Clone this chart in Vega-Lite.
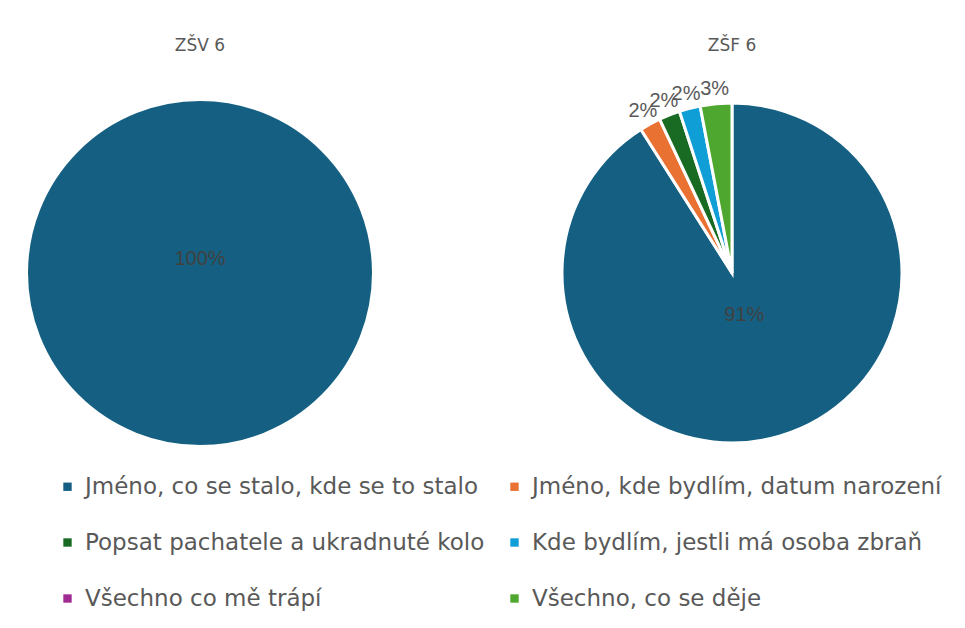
{
  "$schema": "https://vega.github.io/schema/vega-lite/v6.json",
  "background": "white",
  "padding": {"top": 36, "left": 0, "right": 0, "bottom": 0},
  "datasets": {
    "d": [
      {"chart": "ZŠV 6", "category": "Jméno, co se stalo, kde se to stalo", "o": 1, "value": 100, "label": "100%"},
      {"chart": "ZŠV 6", "category": "Jméno, kde bydlím, datum narození", "o": 2, "value": 0, "label": "0%"},
      {"chart": "ZŠV 6", "category": "Popsat pachatele a ukradnuté kolo", "o": 3, "value": 0, "label": "0%"},
      {"chart": "ZŠV 6", "category": "Kde bydlím, jestli má osoba zbraň", "o": 4, "value": 0, "label": "0%"},
      {"chart": "ZŠV 6", "category": "Všechno co mě trápí", "o": 5, "value": 0, "label": "0%"},
      {"chart": "ZŠV 6", "category": "Všechno, co se děje", "o": 6, "value": 0, "label": "0%"},
      {"chart": "ZŠF 6", "category": "Jméno, co se stalo, kde se to stalo", "o": 1, "value": 91, "label": "91%"},
      {"chart": "ZŠF 6", "category": "Jméno, kde bydlím, datum narození", "o": 2, "value": 2, "label": "2%"},
      {"chart": "ZŠF 6", "category": "Popsat pachatele a ukradnuté kolo", "o": 3, "value": 2, "label": "2%"},
      {"chart": "ZŠF 6", "category": "Kde bydlím, jestli má osoba zbraň", "o": 4, "value": 2, "label": "2%"},
      {"chart": "ZŠF 6", "category": "Všechno co mě trápí", "o": 5, "value": 0, "label": "0%"},
      {"chart": "ZŠF 6", "category": "Všechno, co se děje", "o": 6, "value": 3, "label": "3%"}
    ]
  },
  "spacing": 132,
  "resolve": {"scale": {"color": "shared"}},
  "hconcat": [
    {
      "data": {"name": "d"},
      "transform": [{"filter": "datum.chart === 'ZŠV 6'"}, {"filter": "datum.value > 0"}],
      "title": {"text": "ZŠV 6", "offset": 41},
      "width": 400,
      "height": 346,
      "encoding": {
        "theta": {"field": "value", "type": "quantitative", "stack": true},
        "order": {"field": "o", "type": "quantitative"}
      },
      "layer": [
        {
          "mark": {"type": "arc", "outerRadius": 173, "stroke": "white", "strokeWidth": 2},
          "encoding": {
            "color": {
              "field": "category", "type": "nominal",
              "scale": {
                "domain": ["Jméno, co se stalo, kde se to stalo", "Jméno, kde bydlím, datum narození", "Popsat pachatele a ukradnuté kolo", "Kde bydlím, jestli má osoba zbraň", "Všechno co mě trápí", "Všechno, co se děje"],
                "range": ["#156082", "#E97132", "#196B24", "#0F9ED5", "#A02B93", "#4EA72E"]
              }
            }
          }
        },
        {
          "mark": {"type": "text", "radius": 0, "dy": -14, "font": "Liberation Sans", "fontSize": 20, "fill": "#404040"},
          "encoding": {"text": {"field": "label"}}
        }
      ]
    },
    {
      "data": {"name": "d"},
      "transform": [{"filter": "datum.chart === 'ZŠF 6'"}, {"filter": "datum.value > 0"}],
      "title": {"text": "ZŠF 6", "offset": 24},
      "width": 400,
      "height": 346,
      "encoding": {
        "theta": {"field": "value", "type": "quantitative", "stack": true},
        "order": {"field": "o", "type": "quantitative"}
      },
      "layer": [
        {
          "mark": {"type": "arc", "outerRadius": 170, "stroke": "white", "strokeWidth": 3},
          "encoding": {
            "color": {"field": "category", "type": "nominal"}
          }
        },
        {
          "mark": {"type": "text", "radius": 44, "font": "Liberation Sans", "fontSize": 20, "fill": "#404040"},
          "encoding": {"text": {"condition": {"test": "datum.value > 50", "field": "label"}, "value": ""}}
        },
        {
          "mark": {"type": "text", "radius": 185, "font": "Liberation Sans", "fontSize": 20, "fill": "#595959"},
          "encoding": {"text": {"condition": {"test": "datum.value < 50", "field": "label"}, "value": ""}}
        }
      ]
    }
  ],
  "config": {
    "view": {"stroke": null},
    "title": {"font": "DejaVu Sans", "fontSize": 17, "fontWeight": "normal", "color": "#595959"},
    "legend": {
      "orient": "none",
      "direction": "horizontal",
      "legendX": 56,
      "legendY": 375,
      "columns": 2,
      "title": null,
      "symbolType": "square",
      "symbolSize": 70,
      "symbolStrokeWidth": 0,
      "labelFont": "DejaVu Sans",
      "labelFontSize": 23,
      "labelColor": "#595959",
      "labelLimit": 500,
      "rowPadding": 32,
      "columnPadding": 18,
      "labelOffset": 6
    }
  }
}
